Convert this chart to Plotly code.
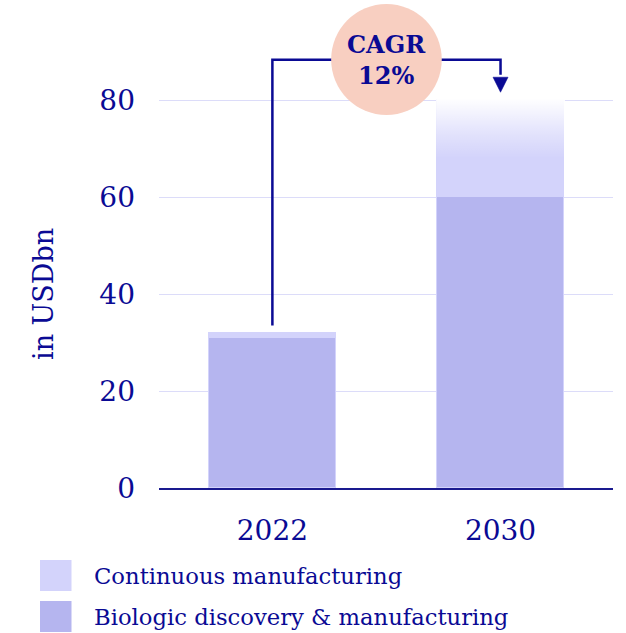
import plotly.graph_objects as go

years = ["2022", "2030"]
biologic = [31, 60]
continuous = [1, 20]
series_names = ["Continuous manufacturing", "Biologic discovery & manufacturing"]
cagr_label = "CAGR<br>12%"
y_ticks = [0, 20, 40, 60, 80]
y_title = "in USDbn"

NAVY = "#0a0a94"
BIO = "#b5b5ef"
CONT = "#d3d3fb"
CIRCLE = "#f8cfc1"
GRID = "#dcdcf9"
FONT = "DejaVu Serif"
W = 0.555

FW, FH = 626, 633
ML, MR, MT, MB = 159, 13, 3, 145
PW, PH = FW - ML - MR, FH - MT - MB


def px(xp):
    return (xp - ML) / PW


def py(yp):
    return (FH - MB - yp) / PH


xs = list(range(len(years)))
totals = [b + c for b, c in zip(biologic, continuous)]

fig = go.Figure()
fig.add_bar(x=xs, y=biologic, name=series_names[1], width=W,
            marker=dict(color=BIO, line=dict(color=CONT, width=1)), showlegend=False)
fig.add_bar(x=xs, y=continuous, name=series_names[0], width=W,
            marker=dict(color=CONT, line=dict(color=CONT, width=1)), showlegend=False)

# white fade at the top of the 2030 continuous segment
i = len(years) - 1
x0, x1 = xs[i] - W / 2 - 0.005, xs[i] + W / 2 + 0.005
fig.add_scatter(
    x=[x0, x1, x1, x0, x0],
    y=[biologic[i], biologic[i], totals[i] + 0.3, totals[i] + 0.3, biologic[i]],
    mode="none", fill="toself", hoverinfo="skip", showlegend=False,
    fillgradient=dict(type="vertical", start=biologic[i], stop=totals[i],
                      colorscale=[[0, "rgba(255,255,255,0)"], [0.4, "rgba(255,255,255,0)"],
                                  [0.65, "rgba(255,255,255,0.35)"], [1, "rgba(255,255,255,0.97)"]]),
)

# connector
y_top = 88.3
y_start = totals[0] + 1.5
arrow_base = totals[1] + 4.7
arrow_tip = totals[1] + 1.6
fig.add_shape(type="path", xref="x", yref="y",
              path=f"M {xs[0]},{y_start} L {xs[0]},{y_top} L {xs[1]},{y_top} L {xs[1]},{arrow_base + 0.5}",
              line=dict(color=NAVY, width=2.5))
fig.add_shape(type="path", xref="x", yref="y",
              path=f"M {xs[1]-0.033},{arrow_base} L {xs[1]+0.033},{arrow_base} L {xs[1]},{arrow_tip} Z",
              fillcolor=NAVY, line=dict(color=NAVY, width=0.5))
# circle
cx, cy = (xs[0] + xs[1]) / 2, 88.35
rx, ry = 0.2424, 11.44
fig.add_shape(type="circle", xref="x", yref="y", x0=cx - rx, x1=cx + rx, y0=cy - ry, y1=cy + ry,
              fillcolor=CIRCLE, line=dict(width=0))
fig.add_annotation(x=cx, y=cy, xref="x", yref="y", text=f"<b>{cagr_label}</b>", showarrow=False,
                   font=dict(family=FONT, size=24, color=NAVY), align="center")

# y title
fig.add_annotation(x=px(43), y=py(294), xref="paper", yref="paper", text=y_title, showarrow=False,
                   xanchor="center", yanchor="middle",
                   textangle=-90, font=dict(family=FONT, size=27, color=NAVY))

# legend (manual)
leg_colors = [CONT, BIO]
leg_y = [560, 601]
for name, col, yy in zip(series_names, leg_colors, leg_y):
    fig.add_shape(type="rect", xref="paper", yref="paper",
                  x0=px(40), x1=px(71.5), y0=py(yy + 31), y1=py(yy),
                  fillcolor=col, line=dict(width=0))
    fig.add_annotation(x=px(92), y=py(yy + 16), xref="paper", yref="paper",
                       text=name, showarrow=False, xanchor="left", yanchor="middle",
                       font=dict(family=FONT, size=22.7, color=NAVY))

fig.update_layout(
    width=FW, height=FH, barmode="stack", bargap=0,
    margin=dict(l=ML, r=MR, t=MT, b=MB, autoexpand=False),
    paper_bgcolor="white", plot_bgcolor="white",
    font=dict(family=FONT, color=NAVY),
    xaxis=dict(range=[-0.497, 1.493], tickvals=xs, ticktext=years, showgrid=False,
               zeroline=False, showline=True, linecolor="#1a1a8f", linewidth=2,
               ticks="", ticklabelstandoff=16, tickfont=dict(family=FONT, size=28, color=NAVY),
               fixedrange=True),
    yaxis=dict(range=[0, 100], tickvals=y_ticks, showgrid=True, gridcolor=GRID, gridwidth=1,
               zeroline=False, showline=False, ticks="", ticklabelstandoff=23,
               tickfont=dict(family=FONT, size=28, color=NAVY), fixedrange=True),
    showlegend=False,
)

fig.write_html("out.html", config={"displayModeBar": False},
               post_script="document.body.style.margin='0';document.body.style.overflow='hidden';")
